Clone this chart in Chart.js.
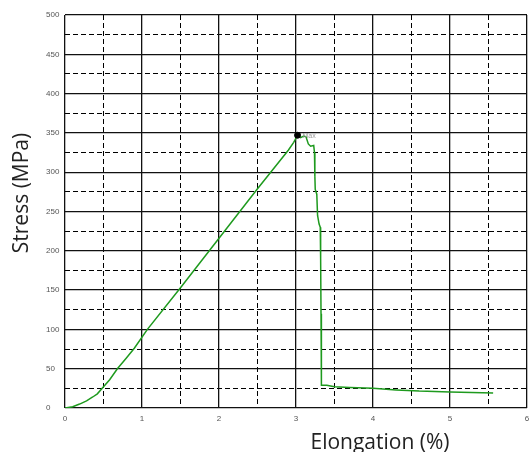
<!DOCTYPE html>
<html>
<head>
<meta charset="utf-8">
<script src="https://cdn.jsdelivr.net/npm/chart.js@4"></script>
<style>
  body { margin: 0; background: #fff; }
  canvas { display: block; }
</style>
</head>
<body>
<canvas id="stressChart" width="532" height="452"></canvas>
<script>
// values
const elongation = [0, 0.1, 0.19, 0.28, 0.36, 0.42, 0.5, 0.58, 0.68, 0.8, 0.9, 1.07,
  1.5, 2.0, 2.5, 2.9, 2.97, 3.02, 3.06, 3.1, 3.13, 3.16, 3.19, 3.23, 3.24, 3.245,
  3.25, 3.27, 3.28, 3.3, 3.315, 3.32, 3.325, 3.33, 3.4, 3.5, 3.7, 4.0, 4.3, 4.6, 5.0, 5.56];
const stress = [0, 1.5, 5, 9, 14, 18, 27, 36, 50, 64, 76, 100,
  153, 216, 279, 328, 338, 347, 344, 346, 345, 336, 333, 334, 325, 295,
  278, 272, 245, 234, 230, 190, 120, 29, 29, 27, 26, 25, 23, 21.5, 20.5, 19];
const peak = { x: 3.02, y: 347 };
const peakLabel = 'Max';
const xTitle = 'Elongation (%)';
const yTitle = 'Stress (MPa)';

const points = elongation.map((e, i) => ({ x: e, y: stress[i] }));

const tickFont = { family: 'Arial, "Liberation Sans"', size: 8 };

const annotate = {
  id: 'annotate',
  afterDraw(chart) {
    const { ctx } = chart;
    const x = chart.scales.x, y = chart.scales.y;
    ctx.save();
    ctx.fillStyle = '#222';
    ctx.font = '21px "Open Sans"';
    ctx.textAlign = 'center';
    ctx.textBaseline = 'alphabetic';
    ctx.fillText(xTitle, 380, 449);
    ctx.translate(28, 193);
    ctx.rotate(-Math.PI / 2);
    ctx.fillText(yTitle, 0, 0);
    ctx.restore();

    ctx.save();
    ctx.font = '7px Arial';
    ctx.fillStyle = '#999';
    ctx.textBaseline = 'middle';
    ctx.fillText(peakLabel, x.getPixelForValue(peak.x) + 5, y.getPixelForValue(peak.y) + 1);
    ctx.restore();
  }
};

function zeroHeight(scale) { scale.height = 0; scale.paddingLeft = 0; scale.paddingRight = 0; }
function zeroWidth(scale) { scale.width = 0; scale.paddingTop = 0; scale.paddingBottom = 0; }

// dashed minor lines only between the solid major ones
function minorColor(major) {
  return (c) => (c.tick && Math.abs(c.tick.value / major - Math.round(c.tick.value / major)) < 1e-6)
    ? 'rgba(0,0,0,0)' : '#000';
}

const ctx = document.getElementById('stressChart');

new Chart(ctx, {
  type: 'line',
  data: {
    datasets: [
      {
        data: [peak],
        showLine: false,
        pointRadius: 3,
        pointBackgroundColor: '#000',
        pointBorderColor: '#000',
        xAxisID: 'x', yAxisID: 'y'
      },
      {
        data: points,
        borderColor: '#1e9a1e',
        borderWidth: 1.5,
        pointRadius: 0,
        tension: 0,
        fill: false,
        xAxisID: 'x', yAxisID: 'y'
      }
    ]
  },
  options: {
    responsive: false,
    animation: false,
    layout: { padding: { left: 46, top: 15, right: 2, bottom: 0 } },
    plugins: {
      legend: { display: false },
      tooltip: { enabled: false }
    },
    scales: {
      x2: {
        type: 'linear', position: 'bottom', min: 0, max: 6,
        ticks: { stepSize: 0.5, display: false },
        grid: { color: minorColor(1), lineWidth: 1, drawTicks: false },
        border: { display: false, dash: [5, 3] },
        afterFit: zeroHeight
      },
      y2: {
        type: 'linear', position: 'left', min: 0, max: 500,
        ticks: { stepSize: 25, display: false },
        grid: { color: minorColor(50), lineWidth: 1, drawTicks: false },
        border: { display: false, dash: [5, 3] },
        afterFit: zeroWidth
      },
      x: {
        type: 'linear', position: 'bottom', min: 0, max: 6,
        ticks: { stepSize: 1, font: tickFont, color: '#555', padding: 6, maxRotation: 0 },
        grid: { color: '#111', lineWidth: 1.3, drawTicks: false },
        border: { display: false },
        afterFit(scale) { scale.height = 44; scale.paddingLeft = 0; scale.paddingRight = 0; }
      },
      y: {
        type: 'linear', position: 'left', min: 0, max: 500,
        ticks: { stepSize: 50, font: tickFont, color: '#555', crossAlign: 'far' },
        grid: { color: '#111', lineWidth: 1.3, drawTicks: false },
        border: { display: false },
        afterFit(scale) { scale.width = 19; scale.paddingTop = 0; scale.paddingBottom = 0; }
      }
    }
  },
  plugins: [annotate]
});
</script>
</body>
</html>
